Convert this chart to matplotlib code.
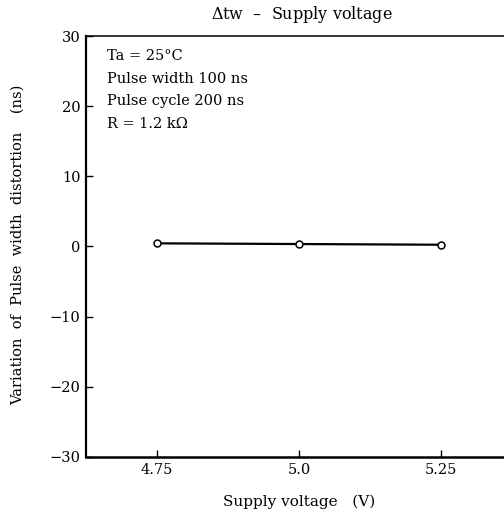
import numpy as np
from matplotlib import pyplot as plt

plt.rcParams['font.family'] = ['DejaVu Serif']
plt.rcParams['mathtext.fontset'] = 'dejavuserif'

voltage = [4.75, 5.0, 5.25]
distortion = [0.45, 0.35, 0.25]

xticks = [4.75, 5.0, 5.25]
xticklabels = ['4.75', '5.0', '5.25']
yticks = [-30, -20, -10, 0, 10, 20, 30]

notes = ['Ta = 25°C', 'Pulse width 100 ns', 'Pulse cycle 200 ns', 'R = 1.2 kΩ']

fig = plt.figure(figsize=(5.04, 5.18), dpi=100)
ax = fig.add_axes([0.1706, 0.1178, 0.845, 0.8127])

ax.plot(voltage, distortion, 'k-', lw=1.6, marker='o', ms=5,
        mfc='white', mec='k', mew=1.1)

ax.set_xlim(4.625, 5.375)
ax.set_ylim(-30, 30)
ax.set_xticks(xticks)
ax.set_xticklabels(xticklabels)
ax.set_yticks(yticks)
ax.tick_params(direction='in', length=5, width=1, labelsize=10.5, pad=4)

ax.spines['left'].set_linewidth(1.6)
ax.spines['bottom'].set_linewidth(1.8)
ax.spines['top'].set_linewidth(1.1)

ax.set_title(r'$\mathit{\Delta}$tw  –  Supply voltage', fontsize=11.5, pad=12,
             x=(302 - 86) / 426)
ax.set_xlabel('Supply voltage   (V)', fontsize=11, labelpad=13)
fig.text(0.036, 0.527, 'Variation  of  Pulse  width  distortion    (ns)',
         rotation=90, va='center', ha='center', fontsize=10.5)

for i, s in enumerate(notes):
    ax.text(0.05, 0.953 - i * 0.054, s, transform=ax.transAxes,
            fontsize=10.5, va='center', ha='left')

plt.savefig('out.png', dpi=100)
